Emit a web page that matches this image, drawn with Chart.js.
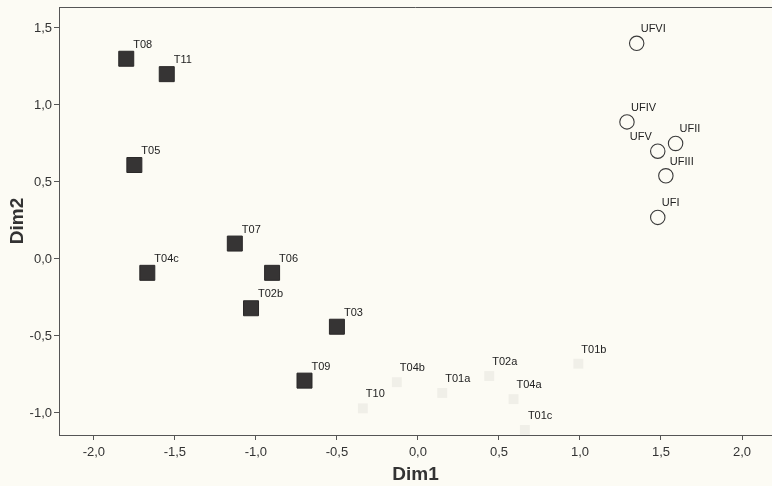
<!DOCTYPE html>
<html>
<head>
<meta charset="utf-8">
<script src="https://cdn.jsdelivr.net/npm/chart.js@4/dist/chart.umd.min.js"></script>
<style>
  html, body { margin: 0; padding: 0; background: #fcfbf4; }
  #wrap { width: 772px; height: 486px; }
</style>
</head>
<body>
<div id="wrap"><canvas id="myChart"></canvas></div>
<script>
// group T (filled squares)
var tLabels = ['T08', 'T11', 'T05', 'T07', 'T04c', 'T06', 'T02b', 'T03', 'T09'];
var tDim1 = [-1.80, -1.55, -1.75, -1.13, -1.67, -0.90, -1.03, -0.50, -0.70];
var tDim2 = [1.30, 1.20, 0.61, 0.10, -0.09, -0.09, -0.32, -0.44, -0.79];

// faint points near the bottom
var fLabels = ['T10', 'T04b', 'T01a', 'T02a', 'T04a', 'T01c', 'T01b'];
var fDim1 = [-0.34, -0.13, 0.15, 0.44, 0.59, 0.66, 0.99];
var fDim2 = [-0.97, -0.80, -0.87, -0.76, -0.91, -1.11, -0.68];

// group UF (open circles)
var ufLabels = ['UFVI', 'UFIV', 'UFII', 'UFV', 'UFIII', 'UFI'];
var ufDim1 = [1.35, 1.29, 1.59, 1.48, 1.53, 1.48];
var ufDim2 = [1.40, 0.89, 0.75, 0.70, 0.54, 0.27];

var xTicks = [-2.0, -1.5, -1.0, -0.5, 0.0, 0.5, 1.0, 1.5, 2.0];
var yTicks = [-1.0, -0.5, 0.0, 0.5, 1.0, 1.5];

// names written to the left of their marker
var leftNames = ['UFV'];

function toPoints(xs, ys) {
    return xs.map(function (x, i) { return { x: x, y: ys[i] }; });
}

function comma(v) {
    return v.toFixed(1).replace('.', ',');
}

// draws the point names above-right of each marker
var pointNames = {
    id: 'pointNames',
    afterDatasetsDraw: function (chart) {
        var ctx = chart.ctx;
        ctx.save();
        ctx.font = '11px "Liberation Sans", Arial, sans-serif';
        ctx.fillStyle = '#222';
        ctx.textBaseline = 'middle';
        chart.data.datasets.forEach(function (ds, i) {
            var meta = chart.getDatasetMeta(i);
            meta.data.forEach(function (el, j) {
                var name = ds.names[j];
                if (leftNames.indexOf(name) >= 0) {
                    ctx.textAlign = 'right';
                    ctx.fillText(name, el.x - 6, el.y - 14);
                } else {
                    ctx.textAlign = 'left';
                    ctx.fillText(name, el.x + ds.nameDx, el.y - 14);
                }
            });
        });
        ctx.restore();
    }
};

// frame line along the top of the plot
var frame = {
    id: 'frame',
    beforeDatasetsDraw: function (chart) {
        var a = chart.chartArea;
        var ctx = chart.ctx;
        ctx.save();
        ctx.strokeStyle = '#555';
        ctx.lineWidth = 1;
        ctx.beginPath();
        ctx.moveTo(a.left, a.top + 0.5);
        ctx.lineTo(a.right, a.top + 0.5);
        ctx.stroke();
        ctx.restore();
    }
};

Chart.defaults.font.family = '"Liberation Sans", Arial, sans-serif';
Chart.defaults.color = '#333';

var chart = new Chart(document.getElementById('myChart').getContext('2d'), {
    type: 'scatter',
    data: {
        datasets: [{
            data: toPoints(fDim1, fDim2),
            names: fLabels,
            nameDx: 3,
            pointStyle: 'rect',
            pointRadius: 7,
            backgroundColor: '#f0efe8',
            borderColor: '#f0efe8',
            borderWidth: 0
        }, {
            data: toPoints(tDim1, tDim2),
            names: tLabels,
            nameDx: 7,
            pointStyle: 'rect',
            pointRadius: 10.6,
            backgroundColor: '#363434',
            borderColor: '#2a2828',
            borderWidth: 1
        }, {
            data: toPoints(ufDim1, ufDim2),
            names: ufLabels,
            nameDx: 4,
            pointStyle: 'circle',
            pointRadius: 7.2,
            backgroundColor: '#fcfbf4',
            borderColor: '#3a3a3a',
            borderWidth: 1.1
        }]
    },
    options: {
        responsive: true,
        maintainAspectRatio: false,
        animation: false,
        layout: { autoPadding: false, padding: { top: 7, right: 0, left: 0, bottom: 0 } },
        plugins: {
            legend: { display: false },
            tooltip: { enabled: false }
        },
        scales: {
            x: {
                type: 'linear',
                min: -2.215,
                max: 2.185,
                afterBuildTicks: function (scale) {
                    scale.ticks = xTicks.map(function (v) { return { value: v }; });
                },
                afterFit: function (scale) {
                    scale.height = 51;
                    scale.paddingLeft = 0;
                    scale.paddingRight = 0;
                },
                ticks: {
                    callback: function (value) { return comma(value); },
                    font: { size: 13 },
                    padding: 5,
                    maxRotation: 0
                },
                grid: { drawOnChartArea: false, tickLength: 5, color: '#555' },
                border: { color: '#555' },
                title: {
                    display: true,
                    text: 'Dim1',
                    font: { size: 19, weight: 'bold' },
                    color: '#333',
                    padding: { top: 0, bottom: 0 }
                }
            },
            y: {
                type: 'linear',
                min: -1.143,
                max: 1.636,
                afterBuildTicks: function (scale) {
                    scale.ticks = yTicks.map(function (v) { return { value: v }; });
                },
                afterFit: function (scale) {
                    scale.width = 59;
                    scale.paddingTop = 0;
                    scale.paddingBottom = 0;
                },
                ticks: {
                    callback: function (value) { return comma(value); },
                    font: { size: 13 },
                    padding: 2
                },
                grid: { drawOnChartArea: false, tickLength: 5, color: '#555' },
                border: { color: '#555' },
                title: {
                    display: true,
                    text: 'Dim2',
                    font: { size: 19, weight: 'bold' },
                    color: '#333',
                    padding: { top: 6, bottom: 0 }
                }
            }
        }
    },
    plugins: [frame, pointNames]
});
</script>
</body>
</html>
